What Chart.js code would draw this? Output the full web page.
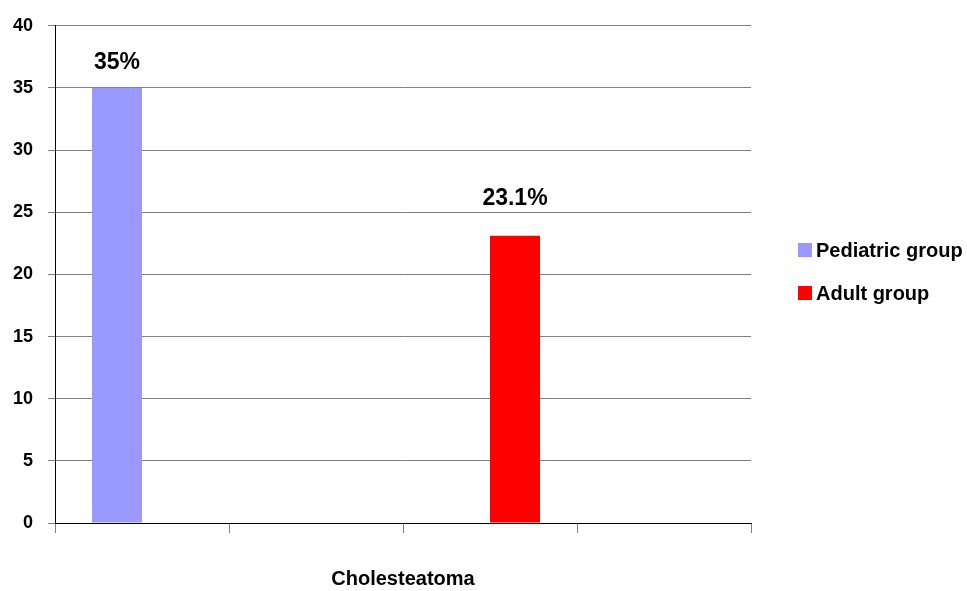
<!DOCTYPE html>
<html>
<head>
<meta charset="utf-8">
<script src="https://cdn.jsdelivr.net/npm/chart.js@4"></script>
<style>
  html, body { margin: 0; padding: 0; background: #fff; }
  #wrap { width: 967px; height: 591px; }
</style>
</head>
<body>
<div id="wrap"><canvas id="chart"></canvas></div>
<script>
// data
const categories = ['', '', '', ''];
const pediatric = [35, null, null, null];
const adult = [null, null, 23.1, null];
const seriesNames = ['Pediatric group', 'Adult group'];
const yTicks = [0, 5, 10, 15, 20, 25, 30, 35, 40];
const axisTitle = 'Cholesteatoma';

const FONT = '"Liberation Sans Narrow", "Liberation Sans", Arial, sans-serif';

// value labels above bars ("35%")
const valueLabels = {
    id: 'valueLabels',
    afterDatasetsDraw(chart) {
        const ctx = chart.ctx;
        ctx.save();
        ctx.font = 'bold 23px ' + FONT;
        ctx.fillStyle = '#000';
        ctx.textAlign = 'center';
        ctx.textBaseline = 'middle';
        chart.data.datasets.forEach((ds, i) => {
            const meta = chart.getDatasetMeta(i);
            meta.data.forEach((bar, j) => {
                const v = ds.data[j];
                if (v == null) return;
                ctx.fillText(v + '%', bar.x, bar.y - ds.labelOffset);
            });
        });
        ctx.restore();
    }
};

// legend on the right, drawn by hand
const sideLegend = {
    id: 'sideLegend',
    afterDraw(chart) {
        const ctx = chart.ctx;
        ctx.save();
        ctx.font = 'bold 20px ' + FONT;
        ctx.textBaseline = 'middle';
        chart.data.datasets.forEach((ds, i) => {
            const y = 250 + i * 43;
            ctx.fillStyle = ds.backgroundColor;
            ctx.fillRect(798, y - 7, 14, 14);
            ctx.fillStyle = '#000';
            ctx.fillText(ds.label, 816, y + 1);
        });
        ctx.restore();
    }
};

new Chart(document.getElementById('chart'), {
    type: 'bar',
    data: {
        labels: categories,
        datasets: [
            {
                label: seriesNames[0],
                data: pediatric,
                backgroundColor: '#9999FF',
                labelOffset: 25
            },
            {
                label: seriesNames[1],
                data: adult,
                backgroundColor: '#FF0000',
                labelOffset: 37
            }
        ]
    },
    options: {
        responsive: true,
        maintainAspectRatio: false,
        animation: false,
        categoryPercentage: 100 / 174,
        barPercentage: 1,
        layout: { padding: { top: 19, right: 216, left: 0, bottom: 0 } },
        plugins: {
            legend: { display: false },
            tooltip: { enabled: false }
        },
        scales: {
            x: {
                grid: {
                    drawOnChartArea: false,
                    color: '#808080',
                    tickLength: 10,
                    offset: true
                },
                border: { color: '#000', width: 1 },
                ticks: { display: false },
                title: {
                    display: true,
                    text: axisTitle,
                    color: '#000',
                    font: { family: FONT, size: 20, weight: 'bold' },
                    padding: { top: 0, bottom: 0 }
                },
                afterFit: s => { s.height = 68; }
            },
            y: {
                min: 0,
                max: 40,
                afterBuildTicks: s => { s.ticks = yTicks.map(v => ({ value: v })); },
                grid: { color: '#808080', tickLength: 7 },
                border: { color: '#000', width: 1 },
                ticks: {
                    color: '#000',
                    padding: 15,
                    font: { family: FONT, size: 18, weight: 'bold' }
                },
                afterFit: s => { s.width = 55; }
            }
        }
    },
    plugins: [valueLabels, sideLegend]
});
</script>
</body>
</html>
